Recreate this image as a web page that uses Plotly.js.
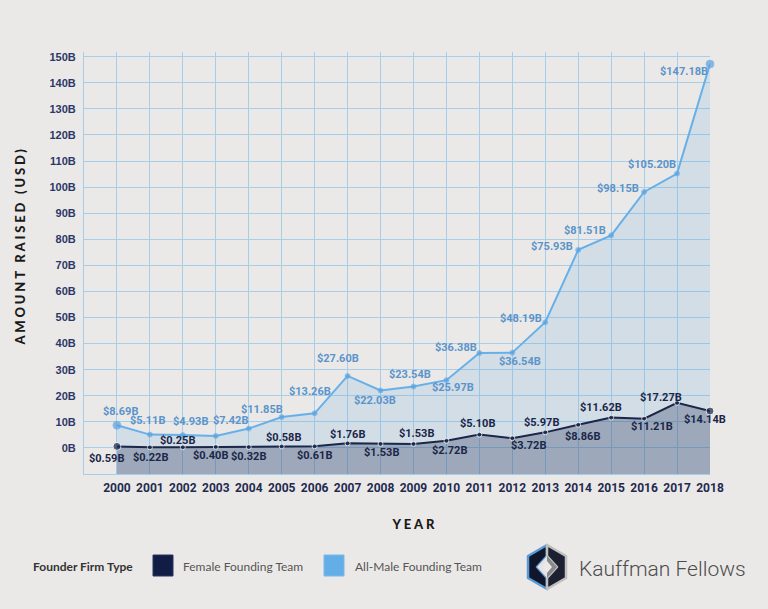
<!DOCTYPE html>
<html>
<head>
<meta charset="utf-8">
<script src="https://cdn.plot.ly/plotly-3.0.1.min.js"></script>
<style>
html,body{margin:0;padding:0;background:#ebe9e7;}
#chart{width:768px;height:609px;}
.annotation[data-index="0"] text, .annotation[data-index="1"] text{letter-spacing:2.8px;}
</style>
</head>
<body>
<div id="chart"></div>
<script>
// ---- data ----
const years = [2000,2001,2002,2003,2004,2005,2006,2007,2008,2009,2010,2011,2012,2013,2014,2015,2016,2017,2018];
const maleValues = [8.69,5.11,4.93,4.6,7.42,11.85,13.26,27.60,22.03,23.54,25.97,36.38,36.54,48.19,75.93,81.51,98.15,105.20,147.18];
const maleLabels = ['$8.69B','$5.11B','$4.93B','','$7.42B','$11.85B','$13.26B','$27.60B','$22.03B','$23.54B','$25.97B','$36.38B','$36.54B','$48.19B','$75.93B','$81.51B','$98.15B','$105.20B','$147.18B'];
const femaleValues = [0.59,0.22,0.25,0.40,0.32,0.58,0.61,1.76,1.53,1.53,2.72,5.10,3.72,5.97,8.86,11.62,11.21,17.27,14.14];
const femaleLabels = ['$0.59B','$0.22B','$0.25B','$0.40B','$0.32B','$0.58B','$0.61B','$1.76B','$1.53B','$1.53B','$2.72B','$5.10B','$3.72B','$5.97B','$8.86B','$11.62B','$11.21B','$17.27B','$14.14B'];
const yTickVals = [0,10,20,30,40,50,60,70,80,90,100,110,120,130,140,150];
const yTickText = ['0B','10B','20B','30B','40B','50B','60B','70B','80B','90B','100B','110B','120B','130B','140B','150B'];
const seriesNames = ['Female Founding Team','All-Male Founding Team'];
const legendTitle = 'Founder Firm Type';
const xTitle = 'YEAR';
const yTitle = 'AMOUNT RAISED (USD)';
const brandText = 'Kauffman Fellows';

// ---- label offsets in pixels from each point (style only) ----
const maleDx = [4,-2,8,0,-18,-20,-5,-10,-6,-3,7,-23,8,-24,-26,-26,-26,-25,-26];
const maleDy = [14,14,14,14,8,8,22,17,-10,12,-7,6,-9,4,3,5,3,9,-7];
const femaleDx = [-10,1,-5,-5,0,2,0,0,1,3,3,-2,16,-4,4,-10,8,-16,-5];
const femaleDy = [-12,-10,7,-9,-9,9,-9,9,-9,10,-10,11,-7,10,-12,10,-8,5,-8];

// ---- style ----
const W = 768, H = 609;
const M = {l:84, r:58, t:52, b:135};
const PW = W - M.l - M.r, PH = H - M.t - M.b;
const yMin = -10, yMax = 151.8;
const px2x = p => (p - M.l) / PW;
const py2y = p => (H - M.b - p) / PH;
const gridColor = '#a6cdea';
const navy = '#1b2648';
const lightBlue = '#66b0ea';
const maleText = '#5a94cb';
const markerSizes = years.map((y,i) => (i === 0 || i === years.length - 1) ? 8 : 5);
const baseline = years.map(() => yMin);

const dataFont = {family:'Roboto, Lato, sans-serif', size:11, weight:700};

const traces = [
  {x:years, y:baseline, mode:'lines', line:{width:0}, hoverinfo:'skip', showlegend:false},
  {x:years, y:maleValues, name:seriesNames[1], mode:'lines+markers', fill:'tonexty',
   fillcolor:'rgba(100,165,225,0.18)', line:{color:lightBlue, width:2},
   marker:{color:'#5c9fdc', size:markerSizes}, cliponaxis:false, showlegend:false},
  {x:years, y:baseline, mode:'lines', line:{width:0}, hoverinfo:'skip', showlegend:false},
  {x:years, y:femaleValues, name:seriesNames[0], mode:'lines+markers', fill:'tonexty',
   fillcolor:'rgba(20,35,75,0.28)', line:{color:navy, width:2},
   marker:{color:navy, size:markerSizes}, cliponaxis:false, showlegend:false}
];

// logo svg
const logoSvg = '<svg xmlns="http://www.w3.org/2000/svg" width="48" height="48" viewBox="0 0 48 48">' +
  '<path d="M24 2 L5 13 L5 35 L24 46 L24 35 L14 24 L24 13 Z" fill="#10162b" stroke="#5b9bd5" stroke-width="2.5" stroke-linejoin="round"/>' +
  '<path d="M24 2 L43 13 L43 35 L24 46 L24 35 L34 24 L24 13 Z" fill="#1c2030" stroke="#bfbfbf" stroke-width="2.5" stroke-linejoin="round"/>' +
  '<path d="M14 24 L24 13 L24 18 L19 24 L24 30 L24 35 Z" fill="#e6e4e2"/>' +
  '<path d="M34 24 L24 13 L24 18 L29 24 L24 30 L24 35 Z" fill="#8a8a8a"/>' +
  '</svg>';
const logoUri = 'data:image/svg+xml;charset=utf-8,' + encodeURIComponent(logoSvg);

const legendFontBold = {family:'Lato, sans-serif', size:12, color:'#333333', weight:700};
const legendFont = {family:'Lato, sans-serif', size:12, color:'#555555'};

const annotations = [
  {text:yTitle, xref:'paper', yref:'paper', x:px2x(20), y:py2y(246), xanchor:'center', yanchor:'middle',
   textangle:-90, showarrow:false, font:{family:'Lato, sans-serif', size:13, color:'#1a1a1a', weight:900}},
  {text:xTitle, xref:'paper', yref:'paper', x:px2x(414), y:py2y(524), xanchor:'center', yanchor:'middle',
   showarrow:false, font:{family:'Lato, sans-serif', size:13, color:'#1a1a1a', weight:900}},
  {text:legendTitle, xref:'paper', yref:'paper', x:px2x(31), y:py2y(566), xanchor:'left', yanchor:'middle',
   showarrow:false, font:legendFontBold},
  {text:seriesNames[0], xref:'paper', yref:'paper', x:px2x(181), y:py2y(566), xanchor:'left', yanchor:'middle',
   showarrow:false, font:legendFont},
  {text:seriesNames[1], xref:'paper', yref:'paper', x:px2x(353), y:py2y(566), xanchor:'left', yanchor:'middle',
   showarrow:false, font:legendFont},
  {text:brandText, xref:'paper', yref:'paper', x:px2x(577), y:py2y(569), xanchor:'left', yanchor:'middle',
   showarrow:false, font:{family:'Roboto, sans-serif', size:21, color:'#4d4d4d', weight:300}}
];
years.forEach((yr, i) => {
  if (maleLabels[i]) annotations.push({x:yr, y:maleValues[i], xref:'x', yref:'y', text:maleLabels[i], showarrow:false,
    xanchor:'center', yanchor:'middle', xshift:maleDx[i], yshift:maleDy[i], font:Object.assign({color:maleText}, dataFont)});
  annotations.push({x:yr, y:femaleValues[i], xref:'x', yref:'y', text:femaleLabels[i], showarrow:false,
    xanchor:'center', yanchor:'middle', xshift:femaleDx[i], yshift:femaleDy[i], font:Object.assign({color:navy}, dataFont)});
});

const layout = {
  width:W, height:H, margin:M,
  paper_bgcolor:'#ebe9e7', plot_bgcolor:'#ebe9e7',
  showlegend:false,
  xaxis:{range:[1999, 2018], tickvals:years, ticktext:years.map(String), showgrid:true,
         gridcolor:gridColor, gridwidth:1, zeroline:false, showline:true, linecolor:gridColor, linewidth:1,
         ticks:'', ticklabelstandoff:3, fixedrange:true,
         tickfont:{family:'Roboto, Lato, sans-serif', size:12, color:'#1f2a4f', weight:700}},
  yaxis:{range:[yMin, yMax], tickvals:yTickVals, ticktext:yTickText, showgrid:true,
         gridcolor:gridColor, gridwidth:1, zeroline:false, showline:true, linecolor:gridColor, linewidth:1,
         ticks:'', ticklabelstandoff:5, fixedrange:true,
         tickfont:{family:'Liberation Sans, Arial, sans-serif', size:11, color:'#2b3768', weight:700}},
  annotations:annotations,
  shapes:[
    {type:'rect', xref:'paper', yref:'paper', x0:px2x(153), x1:px2x(173), y0:py2y(576), y1:py2y(555),
     fillcolor:'#121d45', line:{color:'#2a3563', width:1}},
    {type:'rect', xref:'paper', yref:'paper', x0:px2x(324), x1:px2x(344), y0:py2y(576), y1:py2y(555),
     fillcolor:'#64aee8', line:{color:'#7bb8e8', width:1}}
  ],
  images:[
    {source:logoUri, xref:'paper', yref:'paper', x:px2x(523), y:py2y(543), sizex:48/PW, sizey:48/PH,
     xanchor:'left', yanchor:'top', sizing:'stretch', layer:'above'}
  ]
};

Plotly.newPlot('chart', traces, layout, {displayModeBar:false, staticPlot:true});
</script>
</body>
</html>
